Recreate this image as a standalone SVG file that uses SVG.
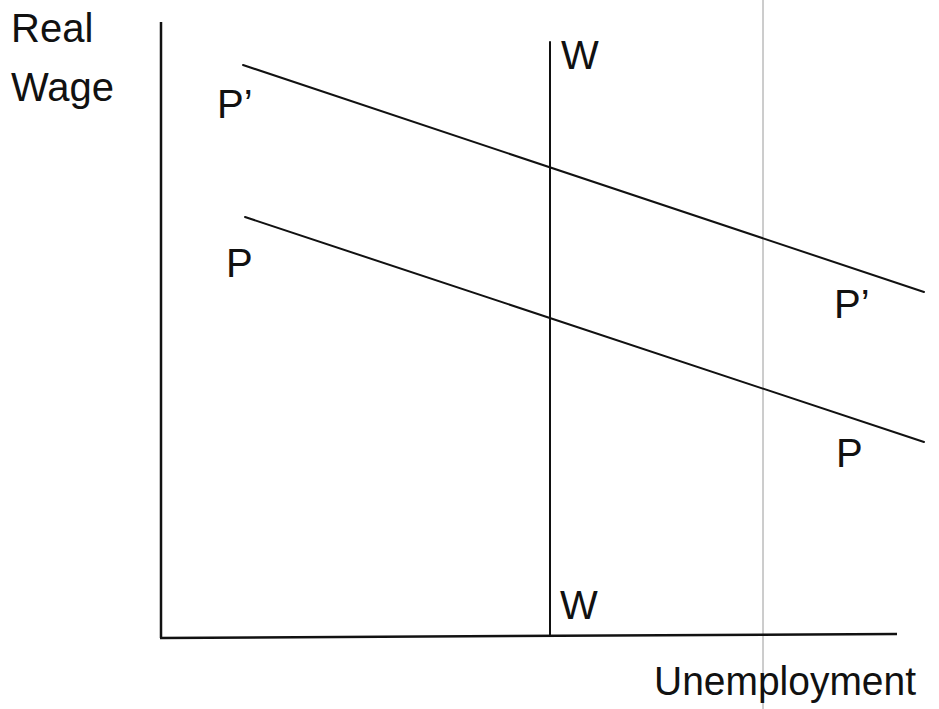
<svg xmlns="http://www.w3.org/2000/svg" width="939" height="709" viewBox="0 0 939 709">
<style>
.t{font-family:"Liberation Sans",Arial,sans-serif;font-size:40px;fill:#111}
.ln{stroke:#111;stroke-width:2;fill:none;stroke-linecap:round}
.ax{stroke:#111;stroke-width:2.5;fill:none}
</style>
<rect width="939" height="709" fill="#fff"/>
<line x1="763" y1="0" x2="763" y2="709" stroke="#9a9a9a" stroke-width="1"/>
<g id="connectors">
<line class="ax" x1="161" y1="22" x2="161" y2="638"/>
<line class="ax" x1="160" y1="638" x2="897" y2="634"/>
<line class="ln" x1="550" y1="42" x2="550" y2="636"/>
<line class="ln" x1="243" y1="65" x2="924" y2="292"/>
<line class="ln" x1="245" y1="217" x2="924" y2="442"/>
</g>
<g id="ylabel"><text class="t" x="11" y="42">Real</text><text class="t" x="11" y="101">Wage</text></g>
<g id="xlabel"><text class="t" x="654" y="695" textLength="262" lengthAdjust="spacingAndGlyphs">Unemployment</text></g>
<g id="Pprime-left"><text class="t" x="217" y="118">P’</text></g>
<g id="P-left"><text class="t" x="226" y="277">P</text></g>
<g id="Pprime-right"><text class="t" x="834" y="318">P’</text></g>
<g id="P-right"><text class="t" x="836" y="467">P</text></g>
<g id="W-top"><text class="t" x="561" y="69">W</text></g>
<g id="W-bottom"><text class="t" x="560" y="619">W</text></g>
</svg>
